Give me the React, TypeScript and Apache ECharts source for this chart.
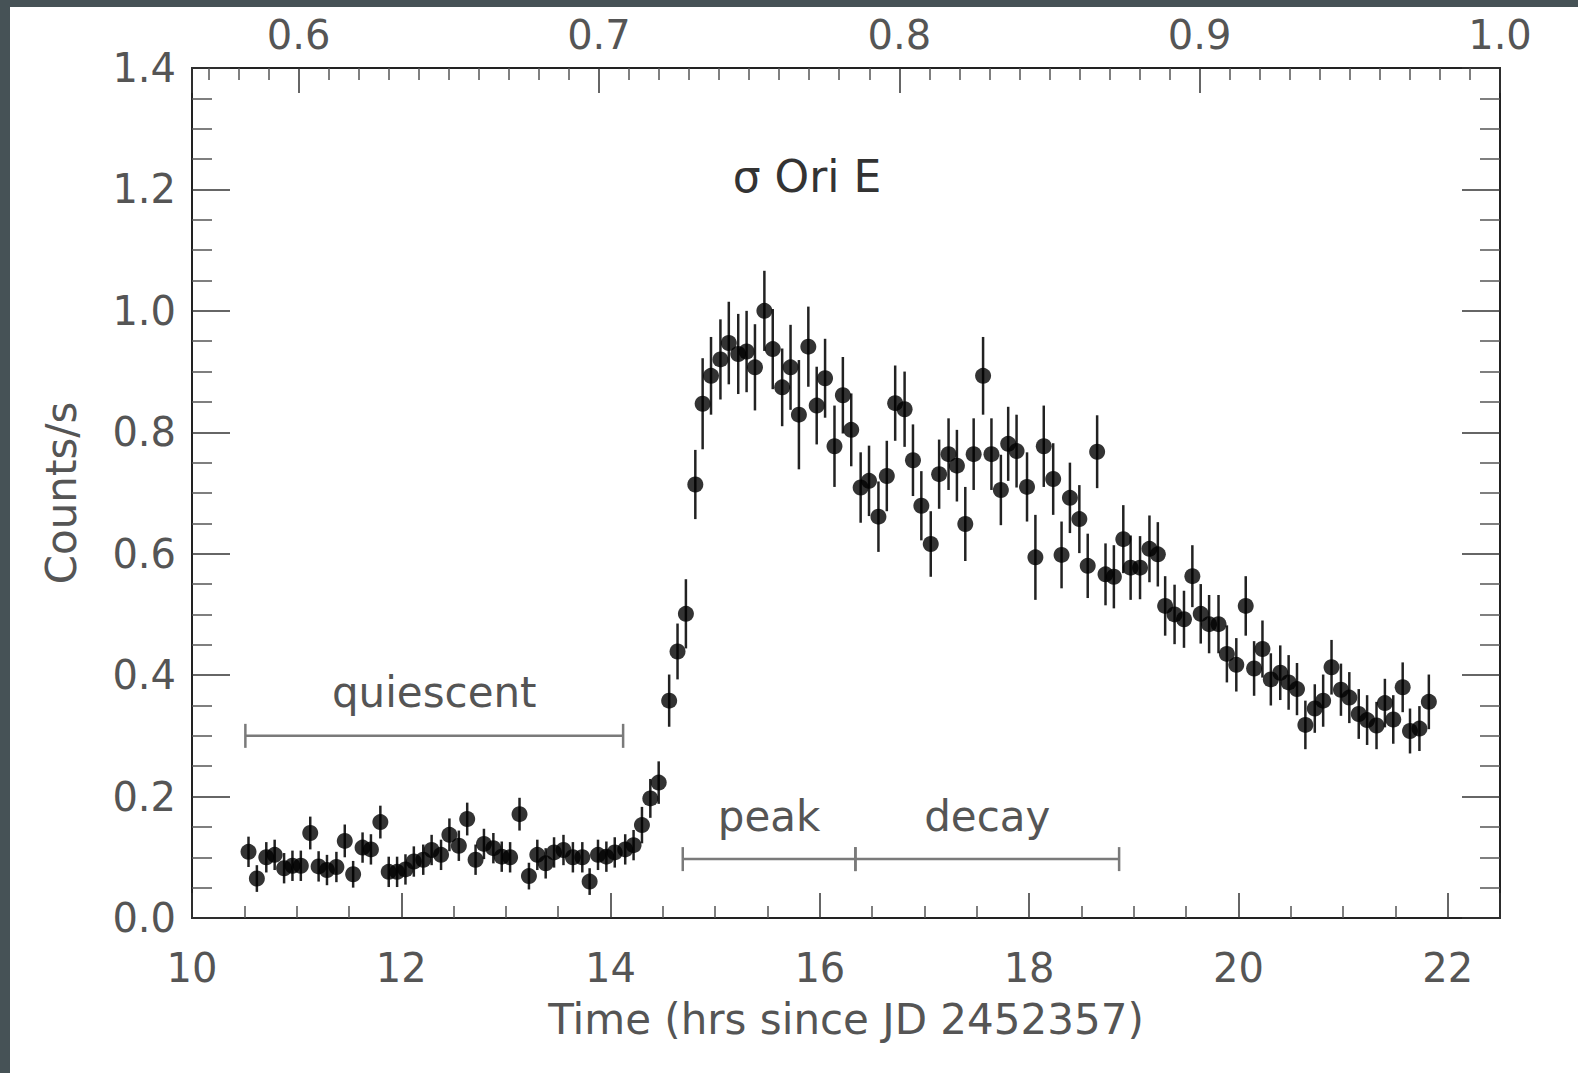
import { useEffect, useRef } from "react";
import * as echarts from "echarts";

const FONT = '"DejaVu Sans", "Liberation Sans", sans-serif';

const times = [
  10.54, 10.62, 10.71, 10.79, 10.88, 10.96, 11.04, 11.13, 11.21, 11.29,
  11.38, 11.46, 11.54, 11.63, 11.71, 11.8, 11.88, 11.96, 12.04, 12.12,
  12.21, 12.29, 12.38, 12.46, 12.55, 12.63, 12.71, 12.79, 12.88, 12.96,
  13.04, 13.13, 13.22, 13.3, 13.38, 13.46, 13.55, 13.64, 13.73, 13.8,
  13.88, 13.96, 14.04, 14.14, 14.22, 14.3, 14.38, 14.46, 14.56, 14.64,
  14.72, 14.81, 14.88, 14.96, 15.05, 15.13, 15.22, 15.3, 15.38, 15.47,
  15.55, 15.64, 15.72, 15.8, 15.89, 15.97, 16.05, 16.14, 16.22, 16.3,
  16.39, 16.47, 16.56, 16.64, 16.72, 16.81, 16.89, 16.97, 17.06, 17.14,
  17.23, 17.31, 17.39, 17.47, 17.56, 17.64, 17.73, 17.8, 17.88, 17.98,
  18.06, 18.14, 18.23, 18.31, 18.39, 18.48, 18.56, 18.65, 18.73, 18.81,
  18.9, 18.97, 19.06, 19.15, 19.23, 19.3, 19.39, 19.48, 19.56, 19.64,
  19.72, 19.81, 19.89, 19.98, 20.07, 20.15, 20.23, 20.31, 20.4, 20.48,
  20.56, 20.64, 20.73, 20.81, 20.89, 20.98, 21.06, 21.15, 21.23, 21.32,
  21.4, 21.48, 21.57, 21.64, 21.73, 21.82,
];

const counts = [
  0.109, 0.065, 0.1, 0.104, 0.082, 0.086, 0.086, 0.14, 0.085, 0.079,
  0.084, 0.127, 0.072, 0.116, 0.113, 0.158, 0.076, 0.076, 0.08, 0.093,
  0.096, 0.112, 0.104, 0.137, 0.119, 0.163, 0.096, 0.122, 0.115, 0.101,
  0.1, 0.171, 0.069, 0.104, 0.09, 0.108, 0.112, 0.1, 0.1, 0.06,
  0.104, 0.101, 0.108, 0.113, 0.12, 0.153, 0.197, 0.223, 0.358, 0.439,
  0.501, 0.714, 0.847, 0.893, 0.92, 0.947, 0.929, 0.933, 0.907, 1.0,
  0.937, 0.874, 0.907, 0.829, 0.941, 0.844, 0.889, 0.777, 0.861, 0.804,
  0.709, 0.72, 0.661, 0.728, 0.848, 0.838, 0.754, 0.679, 0.616, 0.731,
  0.764, 0.745, 0.649, 0.764, 0.893, 0.764, 0.705, 0.781, 0.769, 0.71,
  0.594, 0.777, 0.723, 0.598, 0.692, 0.657, 0.58, 0.768, 0.566, 0.562,
  0.624, 0.577, 0.577, 0.608, 0.599, 0.514, 0.5, 0.492, 0.563, 0.501,
  0.484, 0.484, 0.435, 0.417, 0.514, 0.411, 0.443, 0.393, 0.404, 0.388,
  0.377, 0.318, 0.345, 0.358, 0.413, 0.376, 0.363, 0.336, 0.326, 0.317,
  0.354, 0.327, 0.38, 0.308, 0.312, 0.356,
];

const errors = [
  0.025, 0.022, 0.025, 0.025, 0.025, 0.025, 0.025, 0.027, 0.025, 0.025,
  0.025, 0.027, 0.022, 0.025, 0.025, 0.027, 0.025, 0.025, 0.025, 0.025,
  0.025, 0.025, 0.025, 0.027, 0.025, 0.027, 0.025, 0.025, 0.025, 0.025,
  0.025, 0.027, 0.022, 0.025, 0.025, 0.025, 0.025, 0.025, 0.025, 0.022,
  0.025, 0.025, 0.025, 0.025, 0.025, 0.03, 0.032, 0.035, 0.043, 0.046,
  0.057, 0.057, 0.075, 0.064, 0.066, 0.068, 0.066, 0.067, 0.071, 0.066,
  0.066, 0.064, 0.07, 0.09, 0.066, 0.064, 0.065, 0.067, 0.063, 0.06,
  0.058, 0.058, 0.058, 0.058, 0.062, 0.062, 0.059, 0.057, 0.054, 0.057,
  0.059, 0.059, 0.061, 0.059, 0.064, 0.059, 0.058, 0.061, 0.06, 0.057,
  0.07, 0.067, 0.059, 0.055, 0.058, 0.056, 0.053, 0.06, 0.051, 0.052,
  0.056, 0.053, 0.052, 0.055, 0.053, 0.049, 0.049, 0.047, 0.051, 0.049,
  0.048, 0.048, 0.047, 0.044, 0.049, 0.045, 0.047, 0.043, 0.045, 0.045,
  0.043, 0.04, 0.04, 0.043, 0.045, 0.043, 0.042, 0.041, 0.041, 0.039,
  0.04, 0.04, 0.041, 0.037, 0.037, 0.045,
];

const bracketLabels = ["quiescent", "peak", "decay"];
const bracketStart = [10.51, 14.69, 16.34];
const bracketEnd = [14.12, 16.34, 18.86];
const bracketLevel = [0.3, 0.097, 0.097];

const titleText = "σ Ori E";
const xTitle = "Time (hrs since JD 2452357)";
const yTitle = "Counts/s";

export default function App() {
  const ref = useRef<HTMLDivElement>(null);

  useEffect(() => {
    if (!ref.current) return;
    const chart = echarts.init(ref.current, null, { renderer: "svg" });

    const tickLabel = { fontFamily: FONT, fontSize: 40, color: "#555" };
    const axisLine = { show: true, onZero: false, lineStyle: { color: "#222", width: 2 } };
    const tickLine = { color: "#333", width: 1.5 };
    const minorLine = { color: "#555", width: 1.5 };

    const option: any = {
      animation: false,
      backgroundColor: "#ffffff",
      grid: {
        left: 192,
        top: 68,
        width: 1308,
        height: 850,
        containLabel: false,
        outerBoundsMode: "none",
      },
      graphic: [
        { type: "rect", shape: { x: 0, y: 0, width: 10, height: 1073 }, style: { fill: "#465256" } },
        { type: "rect", shape: { x: 0, y: 0, width: 1578, height: 7 }, style: { fill: "#465256" } },
        {
          type: "text",
          x: 807,
          y: 176,
          style: {
            text: titleText,
            font: `44px ${FONT}`,
            fill: "#333",
            align: "center",
            verticalAlign: "middle",
            textAlign: "center",
            textVerticalAlign: "middle",
          },
        },
      ],
      xAxis: [
        {
          type: "value",
          position: "bottom",
          min: 10,
          max: 22.5,
          splitNumber: 6,
          axisLine,
          axisTick: { show: true, inside: true, length: 25, lineStyle: tickLine },
          minorTick: { show: true, splitNumber: 4, length: 12, lineStyle: minorLine },
          splitLine: { show: false },
          axisLabel: {
            ...tickLabel,
            margin: 30,
            formatter: (v: number) => (Number.isInteger(v) ? String(v) : ""),
          },
          name: xTitle,
          nameLocation: "middle",
          nameGap: 80,
          nameTextStyle: { fontFamily: FONT, fontSize: 42, color: "#555" },
        },
        {
          type: "value",
          position: "top",
          min: 0.5645,
          max: 1.0,
          splitNumber: 4,
          axisLine,
          axisTick: { show: true, inside: true, length: 25, lineStyle: tickLine },
          minorTick: { show: true, splitNumber: 10, length: 12, lineStyle: minorLine },
          splitLine: { show: false },
          axisLabel: {
            ...tickLabel,
            margin: 13,
            formatter: (v: number) =>
              Math.abs(v * 10 - Math.round(v * 10)) < 1e-6 ? v.toFixed(1) : "",
          },
        },
      ],
      yAxis: [
        {
          type: "value",
          position: "left",
          min: 0,
          max: 1.4,
          interval: 0.2,
          axisLine,
          axisTick: { show: true, inside: true, length: 38, lineStyle: tickLine },
          minorTick: { show: true, splitNumber: 4, length: 20, lineStyle: minorLine },
          splitLine: { show: false },
          axisLabel: {
            ...tickLabel,
            margin: 16,
            formatter: (v: number) => v.toFixed(1),
          },
          name: yTitle,
          nameLocation: "middle",
          nameGap: 110,
          nameTextStyle: { fontFamily: FONT, fontSize: 42, color: "#555" },
        },
        {
          type: "value",
          position: "right",
          min: 0,
          max: 1.4,
          interval: 0.2,
          axisLine,
          axisTick: { show: true, inside: true, length: 38, lineStyle: tickLine },
          minorTick: { show: true, splitNumber: 4, length: 20, lineStyle: minorLine },
          splitLine: { show: false },
          axisLabel: { show: false },
        },
      ],
      series: [
        {
          type: "custom",
          name: "errors",
          xAxisIndex: 0,
          yAxisIndex: 0,
          encode: { x: 0, y: [1, 2] },
          data: times.map((t, i) => [t, counts[i] - errors[i], counts[i] + errors[i]]),
          renderItem: (_params: any, api: any) => {
            const p1 = api.coord([api.value(0), api.value(1)]);
            const p2 = api.coord([api.value(0), api.value(2)]);
            return {
              type: "line",
              shape: { x1: p1[0], y1: p1[1], x2: p2[0], y2: p2[1] },
              style: { stroke: "#222", lineWidth: 2.5 },
            };
          },
          z: 2,
        },
        {
          type: "scatter",
          name: "counts",
          xAxisIndex: 0,
          yAxisIndex: 0,
          symbol: "circle",
          symbolSize: 16,
          itemStyle: { color: "#000" },
          data: times.map((t, i) => [t, counts[i]]),
          z: 3,
        },
        {
          type: "custom",
          name: "phases",
          xAxisIndex: 0,
          yAxisIndex: 0,
          encode: { x: [0, 1], y: 2 },
          data: bracketStart.map((s, i) => [s, bracketEnd[i], bracketLevel[i]]),
          renderItem: (params: any, api: any) => {
            const a = api.coord([api.value(0), api.value(2)]);
            const b = api.coord([api.value(1), api.value(2)]);
            const stroke = { stroke: "#7a7a7a", lineWidth: 2.5 };
            return {
              type: "group",
              children: [
                { type: "line", shape: { x1: a[0], y1: a[1], x2: b[0], y2: b[1] }, style: stroke },
                { type: "line", shape: { x1: a[0], y1: a[1] - 12, x2: a[0], y2: a[1] + 12 }, style: stroke },
                { type: "line", shape: { x1: b[0], y1: b[1] - 12, x2: b[0], y2: b[1] + 12 }, style: stroke },
                {
                  type: "text",
                  x: (a[0] + b[0]) / 2,
                  y: a[1] - 43,
                  style: {
                    text: bracketLabels[params.dataIndex],
                    font: `42px ${FONT}`,
                    fill: "#555",
                    align: "center",
                    verticalAlign: "middle",
                    textAlign: "center",
                    textVerticalAlign: "middle",
                  },
                },
              ],
            };
          },
          z: 1,
        },
      ],
    };

    chart.setOption(option);
    return () => chart.dispose();
  }, []);

  return (
    <div style={{ position: "fixed", left: 0, top: 0, width: 1578, height: 1073, background: "#fff" }}>
      <div ref={ref} style={{ width: 1578, height: 1073 }} />
    </div>
  );
}
